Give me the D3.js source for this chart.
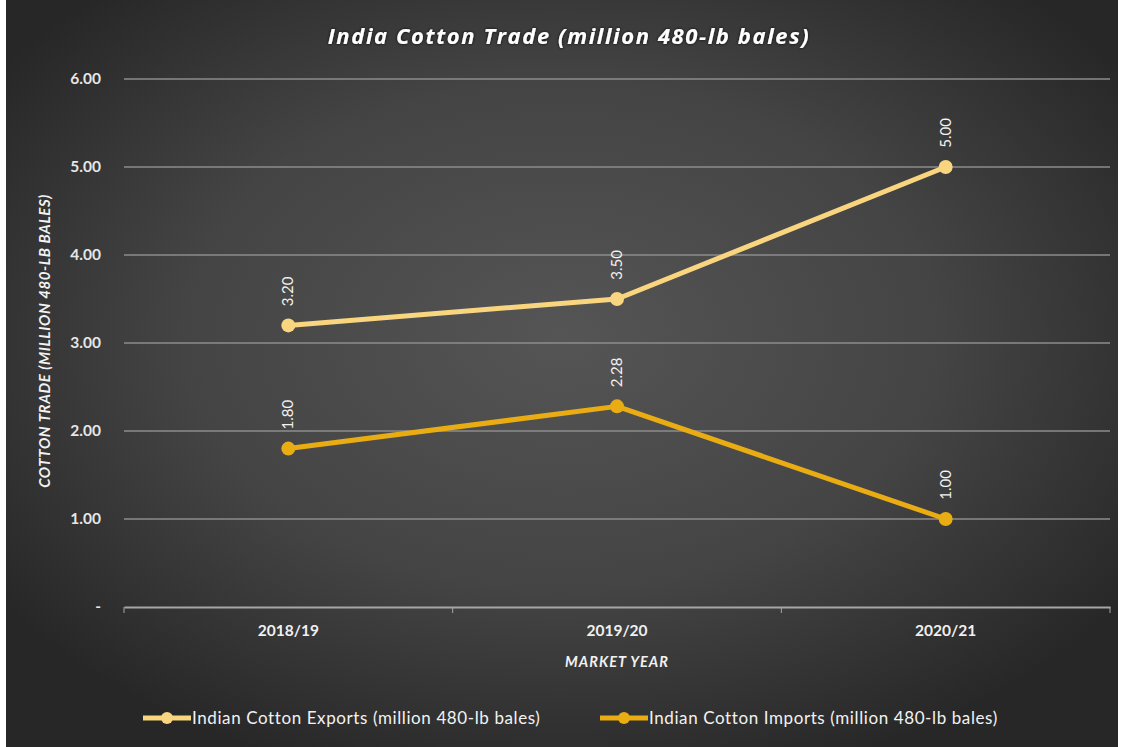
<!DOCTYPE html>
<html>
<head>
<meta charset="utf-8">
<script src="https://cdn.jsdelivr.net/npm/d3@7"></script>
<style>
  body { margin: 0; background: #fff; }
  svg { display: block; }
</style>
</head>
<body>
<div id="chart"></div>
<script>
var years = ["2018/19", "2019/20", "2020/21"];
var exportsVals = [3.20, 3.50, 5.00];
var importsVals = [1.80, 2.28, 1.00];
var yTicks = [0, 1, 2, 3, 4, 5, 6];
var seriesNames = ["Indian Cotton Exports (million 480-lb bales)", "Indian Cotton Imports (million 480-lb bales)"];

var width = 1125, height = 747;
var margin = {top: 79, right: 15, bottom: 140, left: 124};

var svg = d3.select("#chart").append("svg")
    .attr("width", width)
    .attr("height", height);

var defs = svg.append("defs");
var grad = defs.append("radialGradient")
    .attr("id", "bg")
    .attr("cx", "50%").attr("cy", "45%").attr("r", "62%");
grad.append("stop").attr("offset", "0%").attr("stop-color", "#555555");
grad.append("stop").attr("offset", "55%").attr("stop-color", "#444444");
grad.append("stop").attr("offset", "100%").attr("stop-color", "#272727");

var glow = defs.append("filter").attr("id", "glow")
    .attr("x", "-10%").attr("y", "-30%").attr("width", "120%").attr("height", "160%");
glow.append("feDropShadow").attr("dx", 0).attr("dy", 0)
    .attr("stdDeviation", 1.5).attr("flood-color", "#000").attr("flood-opacity", 0.9);

svg.append("rect")
    .attr("x", 6).attr("y", 0)
    .attr("width", 1112).attr("height", height)
    .attr("fill", "url(#bg)");

var x = d3.scaleBand()
    .domain(years)
    .range([margin.left, 1110]);

var y = d3.scaleLinear()
    .domain([0, 6])
    .range([607, margin.top]);

var cx = d => x(d) + x.bandwidth() / 2;

// gridlines
svg.append("g")
    .selectAll("line")
    .data(yTicks.filter(d => d > 0))
    .join("line")
    .attr("x1", margin.left)
    .attr("x2", 1110)
    .attr("y1", d => y(d))
    .attr("y2", d => y(d))
    .attr("stroke", "#8c8c8c")
    .attr("stroke-width", 1.5);

// y tick labels
svg.append("g")
    .selectAll("text")
    .data(yTicks)
    .join("text")
    .attr("x", 101)
    .attr("y", d => y(d))
    .attr("dy", "0.35em")
    .attr("text-anchor", "end")
    .attr("fill", "#e6e6e6")
    .attr("font-family", "Lato, sans-serif")
    .attr("font-weight", "bold")
    .attr("font-size", 15.5)
    .text(d => d === 0 ? "-" : d3.format(".2f")(d));

// x axis
var xAxis = svg.append("g")
    .attr("transform", "translate(0,607)")
    .call(d3.axisBottom(x).tickSize(0).tickPadding(18));
xAxis.select(".domain").attr("stroke", "#a6a6a6").attr("stroke-width", 2);
xAxis.selectAll("text")
    .attr("fill", "#f0f0f0")
    .attr("font-family", "Lato, sans-serif")
    .attr("font-weight", "bold")
    .attr("font-size", 15.5);

// tick marks at band boundaries
svg.append("g")
    .selectAll("line")
    .data([margin.left, x("2019/20"), x("2020/21"), 1110])
    .join("line")
    .attr("x1", d => d).attr("x2", d => d)
    .attr("y1", 607).attr("y2", 613)
    .attr("stroke", "#a6a6a6")
    .attr("stroke-width", 1);

// titles
svg.append("text")
    .attr("x", 569).attr("y", 44)
    .attr("text-anchor", "middle")
    .attr("fill", "#ffffff")
    .attr("font-family", "'Open Sans', sans-serif")
    .attr("font-weight", "bold")
    .attr("font-style", "italic")
    .attr("font-size", 22)
    .attr("letter-spacing", 1.6)
    .attr("filter", "url(#glow)")
    .text("India Cotton Trade (million 480-lb bales)");

svg.append("text")
    .attr("transform", "translate(50," + ((y(0) + y(6)) / 2 - 2) + ") rotate(-90)")
    .attr("text-anchor", "middle")
    .attr("fill", "#f2f2f2")
    .attr("font-family", "Lato, sans-serif")
    .attr("font-weight", "bold")
    .attr("font-style", "italic")
    .attr("font-size", 15)
    .attr("letter-spacing", 0.6)
    .text("COTTON TRADE (MILLION 480-LB BALES)");

svg.append("text")
    .attr("x", cx("2019/20")).attr("y", 667)
    .attr("text-anchor", "middle")
    .attr("fill", "#f2f2f2")
    .attr("font-family", "Lato, sans-serif")
    .attr("font-weight", "bold")
    .attr("font-style", "italic")
    .attr("font-size", 14.5)
    .attr("letter-spacing", 1)
    .text("MARKET YEAR");

// series
var series = [
    {name: seriesNames[0], values: exportsVals, color: "#f8d57e"},
    {name: seriesNames[1], values: importsVals, color: "#e9ac13"}
];

var line = d3.line()
    .x((d, i) => cx(years[i]))
    .y(d => y(d));

series.forEach(function(s) {
    var g = svg.append("g");
    g.append("path")
        .attr("d", line(s.values))
        .attr("fill", "none")
        .attr("stroke", s.color)
        .attr("stroke-width", 5)
        .attr("stroke-linejoin", "round");
    g.selectAll("circle")
        .data(s.values)
        .join("circle")
        .attr("cx", (d, i) => cx(years[i]))
        .attr("cy", d => y(d))
        .attr("r", 7)
        .attr("fill", s.color);
    g.selectAll("text")
        .data(s.values)
        .join("text")
        .attr("transform", (d, i) => "translate(" + (cx(years[i]) + 5) + "," + (y(d) - 34) + ") rotate(-90)")
        .attr("text-anchor", "middle")
        .attr("fill", "#f2f2f2")
        .attr("font-family", "Lato, sans-serif")
        .attr("font-size", 15)
        .text(d => d3.format(".2f")(d));
});

// legend
var legendX = [143, 600];
series.forEach(function(s, i) {
    var lg = svg.append("g").attr("transform", "translate(" + legendX[i] + ",718)");
    lg.append("line")
        .attr("x1", 0).attr("x2", 48)
        .attr("stroke", s.color)
        .attr("stroke-width", 5);
    lg.append("circle")
        .attr("cx", 24).attr("r", 6)
        .attr("fill", s.color);
    lg.append("text")
        .attr("x", 49)
        .attr("dy", "0.35em")
        .attr("fill", "#f2f2f2")
        .attr("font-family", "Lato, sans-serif")
        .attr("font-size", 17)
        .attr("letter-spacing", 0.6)
        .text(s.name);
});
</script>
</body>
</html>
